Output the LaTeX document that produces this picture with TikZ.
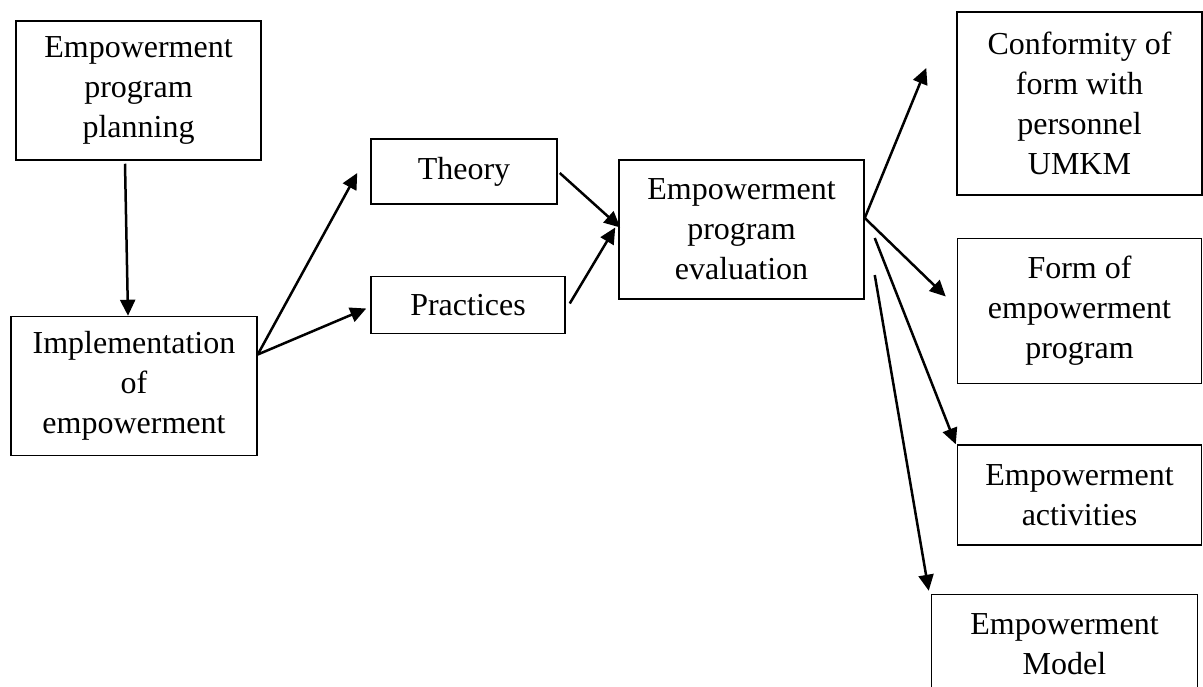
\documentclass[tikz,border=0pt]{standalone}
\usepackage{fontspec}
\setmainfont{Liberation Serif}
\usepackage{tikz}
\usetikzlibrary{arrows.meta,positioning,calc}
\tikzset{
  box/.style={draw=black, line width=1.5pt, inner sep=0pt, align=center,
    font=\fontsize{32}{40}\selectfont},
  flow/.style={-{Triangle[length=16pt,width=15pt]}, line width=2.5pt}
}

\begin{document}
\begin{tikzpicture}[x=1pt, y=-1pt]
  \useasboundingbox (0,0) rectangle (1203,686);
  \clip (0,0) rectangle (1203,686);

  % left column
  \node[box, minimum width=245pt, minimum height=139pt] (plan) at (138.5,90.5)
    {Empowerment\\program\\planning};
  \node[box, minimum width=246pt, minimum height=139pt, below=155pt of plan, xshift=-4.5pt] (impl)
    {Implementation\\of\\empowerment};

  % middle
  \node[box, minimum width=186pt, minimum height=65pt] (theo) at (464,171.5) {Theory};
  \node[box, minimum width=194pt, minimum height=57pt, below=71pt of theo, xshift=4pt] (prac) {Practices};
  \node[box, minimum width=245pt, minimum height=139pt] (eval) at (741.5,229.5)
    {Empowerment\\program\\evaluation};

  % right column
  \node[box, minimum width=245pt, minimum height=183pt] (conf) at (1079.5,103.5)
    {Conformity of\\form with\\personnel\\UMKM};
  \node[box, minimum width=244pt, minimum height=145pt, below=42pt of conf] (form)
    {Form of\\empowerment\\program};
  \node[box, minimum width=244pt, minimum height=100pt, below=60pt of form] (act)
    {Empowerment\\activities};
  \node[box, minimum width=266pt, minimum height=100pt, below=48pt of act, xshift=-15pt] (model)
    {Empowerment\\Model};

  \coordinate (conftip) at ($(conf.west)+(-30,-35.5)$);

  \draw[flow] ([xshift=-13.5pt,yshift=-3pt]plan.south) -- ([xshift=-6pt]impl.north);
  \draw[flow] ([yshift=31.5pt]impl.east) -- ([xshift=-13pt,yshift=-1.5pt]theo.west);
  \draw[flow] ([yshift=31.5pt]impl.east) -- ([xshift=-4pt,yshift=-3.5pt]prac.west);
  \draw[flow] ([xshift=2pt,yshift=-1.5pt]theo.east) -- ([xshift=2pt,yshift=2pt]eval.west);
  \draw[flow] ([xshift=4pt,yshift=1.5pt]prac.east) -- ([xshift=-3pt,yshift=2pt]eval.west);
  \draw[flow] ([yshift=11.5pt]eval.east) -- (conftip);
  \draw[flow] ([yshift=11.5pt]eval.east) -- ([xshift=-11pt,yshift=14.5pt]form.west);
  \draw[flow] ([xshift=10pt,yshift=-8.5pt]eval.east) -- ([xshift=-1pt]act.north west);
  \draw[flow] ([xshift=10pt,yshift=-45.5pt]eval.east) -- ([xshift=-2pt,yshift=3pt]model.north west);
\end{tikzpicture}
\end{document}
